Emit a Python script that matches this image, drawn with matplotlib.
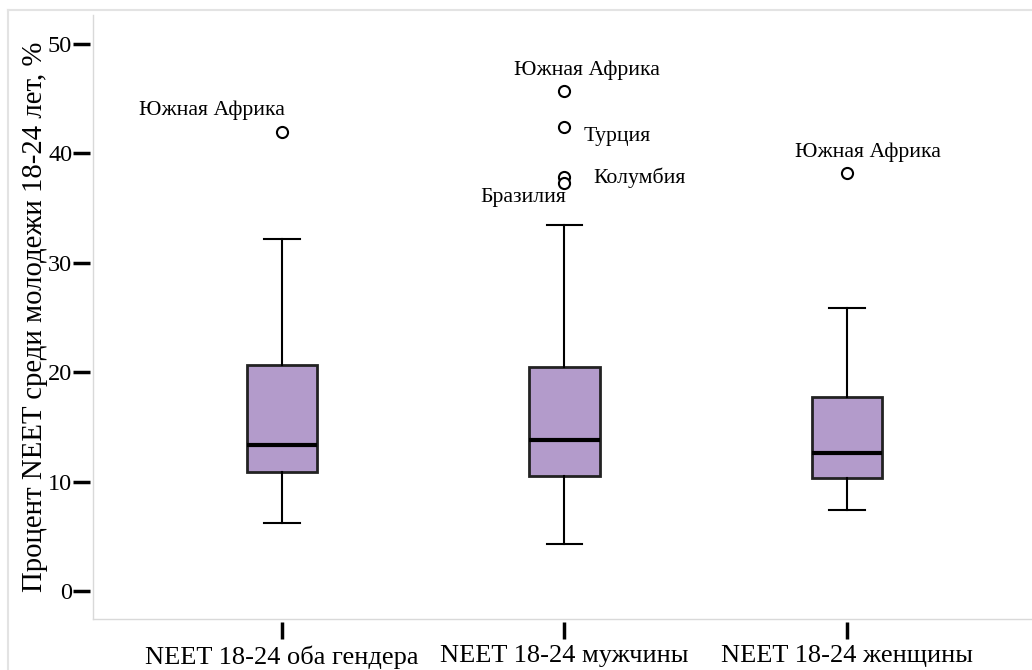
import matplotlib.pyplot as plt
from matplotlib.lines import Line2D

plt.rcParams['font.family'] = ['Liberation Serif', 'DejaVu Serif']

# сводная статистика по трём группам (SPSS-ящики)
groups = ['NEET 18-24 оба гендера', 'NEET 18-24 мужчины', 'NEET 18-24 женщины']
whislo = [6.2, 4.3, 7.4]
q1 = [10.9, 10.5, 10.3]
med = [13.3, 13.8, 12.6]
q3 = [20.7, 20.5, 17.7]
whishi = [32.2, 33.5, 25.9]
fliers = [[42.0], [45.7, 42.4, 37.8, 37.3], [38.2]]

# подписи выбросов: текст, x, y, выравнивание
outlier_labels = [
    ('Южная Африка', 0.752, 43.9, 'center'),
    ('Южная Африка', 2.078, 47.6, 'center'),
    ('Турция', 2.067, 41.5, 'left'),
    ('Колумбия', 2.103, 37.75, 'left'),
    ('Бразилия', 2.007, 36.0, 'right'),
    ('Южная Африка', 3.074, 40.1, 'center'),
]

stats = []
for i in range(len(groups)):
    stats.append(dict(whislo=whislo[i], q1=q1[i], med=med[i], q3=q3[i],
                      whishi=whishi[i], fliers=fliers[i], label=groups[i]))

fig = plt.figure(figsize=(10.32, 6.70), dpi=100)
ax = fig.add_axes([93 / 1032, 1 - 619 / 670, 1 - 93 / 1032, (619 - 15) / 670])

ax.bxp(stats, positions=[1, 2, 3], widths=0.25, patch_artist=True,
       boxprops=dict(facecolor='#b39bcb', edgecolor='#222222', linewidth=2),
       medianprops=dict(color='black', linewidth=3),
       whiskerprops=dict(color='black', linewidth=1.5),
       capprops=dict(color='black', linewidth=1.5),
       flierprops=dict(marker='o', markerfacecolor='white', markeredgecolor='black',
                       markersize=8, markeredgewidth=1.5))

for text, x, y, ha in outlier_labels:
    ax.text(x, y, text, ha=ha, va='center', fontsize=15.7)

ax.set_xlim(0.331, 3.655)
ax.set_ylim(-2.56, 52.65)
ax.set_yticks([0, 10, 20, 30, 40, 50])
ax.set_xticks([1, 2, 3])
ax.set_xticklabels(groups)

# тики вынесены чуть наружу, сами оси — светло-серые линии
for side in ['left', 'bottom']:
    ax.spines[side].set_position(('outward', 2))
    ax.spines[side].set_color('none')
for side in ['top', 'right']:
    ax.spines[side].set_visible(False)
ax.plot([0, 0], [0, 1], color='#d9d9d9', lw=1, transform=ax.transAxes, clip_on=False)
ax.plot([0, 1], [0, 0], color='#d9d9d9', lw=1, transform=ax.transAxes, clip_on=False)

ax.tick_params(axis='y', length=12, width=2.5, pad=1, labelsize=17.5)
ax.tick_params(axis='x', length=12, width=2.5, pad=5, labelsize=19)

ax.set_ylabel('Процент NEET среди молодежи 18-24 лет, %', fontsize=20.7)
ax.yaxis.set_label_coords(-0.048, 0.5)

# внешняя рамка
fig.add_artist(Line2D([8 / 1032, 1], [1 - 10 / 670, 1 - 10 / 670], color='#e3e3e3', lw=1.5))
fig.add_artist(Line2D([8 / 1032, 8 / 1032], [0, 1 - 10 / 670], color='#e3e3e3', lw=1.5))

fig.savefig('out.png', dpi=100)
